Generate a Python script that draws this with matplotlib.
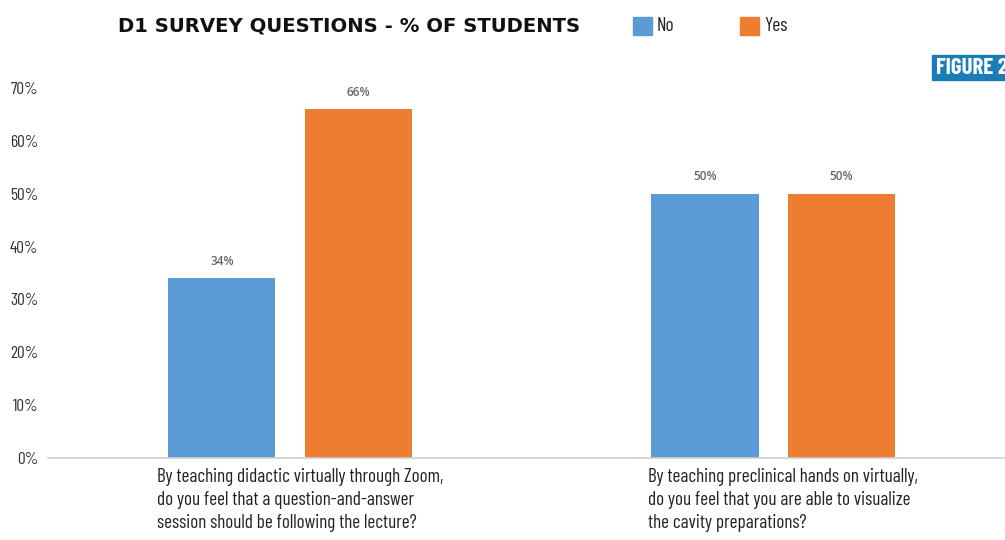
import numpy as np
import matplotlib.pyplot as plt
import matplotlib.transforms as mtransforms
from matplotlib.patches import Rectangle

# survey answers, share of students
questions = [
    "By teaching didactic virtually through Zoom,\ndo you feel that a question-and-answer\nsession should be following the lecture?",
    "By teaching preclinical hands on virtually,\ndo you feel that you are able to visualize\nthe cavity preparations?",
]
answers = ["No", "Yes"]
no_pct = [0.34, 0.50]
yes_pct = [0.66, 0.50]
y_ticks = [0, 0.1, 0.2, 0.3, 0.4, 0.5, 0.6, 0.7]

blue = "#5B9BD5"
orange = "#ED7D31"
narrow = ["Barlow Condensed", "DejaVu Sans"]

fig = plt.figure(figsize=(10.05, 5.4), dpi=100)
ax = fig.add_axes([48 / 1005, 1 - 458 / 540, 1 - 48 / 1005, (458 - 88) / 540])

x = np.arange(len(questions))
w = 0.2215
off = 0.141
bars_no = ax.bar(x - off, no_pct, w, color=blue, zorder=2)
bars_yes = ax.bar(x + off, yes_pct, w, color=orange, zorder=2)

for bars in (bars_no, bars_yes):
    for b in bars:
        h = b.get_height()
        ax.text(b.get_x() + b.get_width() / 2, h + 0.02, f"{h:.0%}",
                ha="center", va="bottom", fontsize=8.5, color="#666666",
                fontweight="semibold", family=["Open Sans", "DejaVu Sans"])

ax.set_xlim(-0.501, 1.48)
ax.set_ylim(0, 0.70)
ax.set_yticks(y_ticks)
ax.set_yticklabels([f"{t:.0%}" for t in y_ticks], family=narrow, fontsize=12.5,
                   color="#333333")
ax.set_xticks(x)
ax.set_xticklabels(questions, family=narrow, fontsize=13.8, color="#222222",
                   multialignment="left", linespacing=1.38)
ax.tick_params(axis="both", length=0)
ax.tick_params(axis="y", pad=7)
ax.tick_params(axis="x", pad=7)
# nudge the question labels a little to the right
shift = mtransforms.ScaledTranslation(10 / 100, 0, fig.dpi_scale_trans)
for lbl in ax.get_xticklabels():
    lbl.set_transform(lbl.get_transform() + shift)
for s in ["top", "right", "left"]:
    ax.spines[s].set_visible(False)
ax.spines["bottom"].set_color("#d0d0d0")
ax.spines["bottom"].set_linewidth(1.2)

# title and legend across the top
fig.text(118 / 1005, 1 - 26 / 540, "D1 SURVEY QUESTIONS - % OF STUDENTS",
         fontsize=14.1, fontweight="bold", va="center", ha="left", color="#111111",
         family=["DejaVu Sans"])
for sx, col, name in [(633, blue, "No"), (740, orange, "Yes")]:
    fig.patches.append(Rectangle((sx / 1005, 1 - 35 / 540), 19 / 1005, 18 / 540,
                                 transform=fig.transFigure, color=col))
    fig.text((sx + 24) / 1005, 1 - 26 / 540, name, family=narrow, fontsize=14,
             va="center", ha="left", color="#222222")

# figure tag in the corner
fig.patches.append(Rectangle((932 / 1005, 1 - 80 / 540), 80 / 1005, 25 / 540,
                             transform=fig.transFigure, color="#1B7DB8"))
fig.text(936 / 1005, 1 - 67.5 / 540, "FIGURE 2", family=narrow, fontsize=16.5,
         fontweight="bold", color="white", va="center", ha="left")

fig.savefig("out.png", dpi=100)
